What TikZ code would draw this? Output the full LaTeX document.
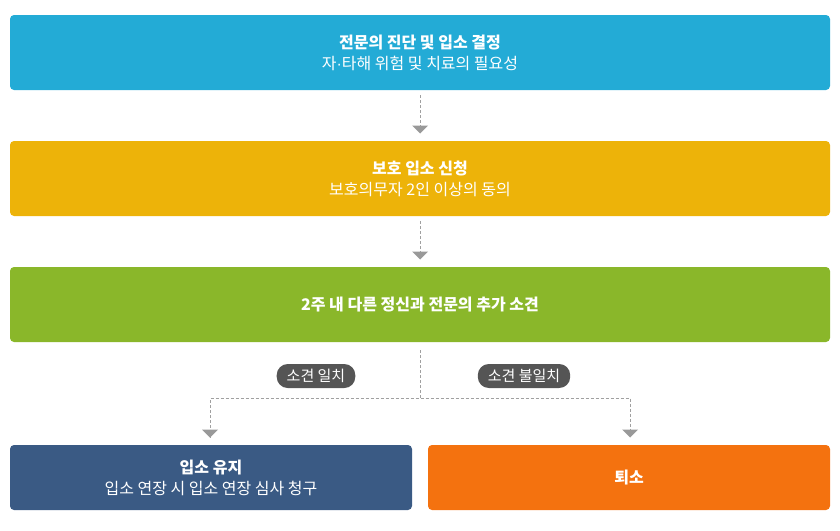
\documentclass[tikz,border=0pt]{standalone}
\usepackage{fontspec}
\setmainfont{Noto Sans CJK KR}
\newfontfamily\dotfont{Liberation Sans}
\usetikzlibrary{arrows.meta,positioning,calc}
\definecolor{cBlue}{HTML}{23ABD6}
\definecolor{cGold}{HTML}{EDB309}
\definecolor{cGreen}{HTML}{8AB72A}
\definecolor{cNavy}{HTML}{3A5A84}
\definecolor{cOrange}{HTML}{F4720F}
\definecolor{cPill}{HTML}{555555}
\definecolor{cLine}{HTML}{A0A0A0}
\definecolor{cTri}{HTML}{999999}
\tikzset{
  stepbox/.style={draw=none, rounded corners=4pt, text=white, align=center,
    font=\fontsize{16}{21}\selectfont, inner sep=0pt},
  pill/.style={fill=cPill, rounded corners=11pt, text=white, inner xsep=10pt, inner ysep=0pt,
    minimum height=24pt, font=\fontsize{15}{17}\selectfont},
  conn/.style={draw=cLine, dash pattern=on 3pt off 2pt, line width=0.8pt},
  tri/.style={fill=cTri, draw=none},
}
\newcommand{\tridown}[1]{\fill[tri] ($(#1)+(-8pt,4pt)$) -- ($(#1)+(8pt,4pt)$) -- ($(#1)+(0,-4pt)$) -- cycle;}
\begin{document}
\begin{tikzpicture}[x=1pt,y=-1pt]
\useasboundingbox (0,0) rectangle (840,530);
\node[stepbox, fill=cBlue, minimum width=820pt, minimum height=75pt] (b1) at (420,52.5)
  {{\bfseries 전문의 진단 및 입소 결정}\\자{\dotfont ·}타해 위험 및 치료의 필요성};
\node[stepbox, fill=cGold, minimum width=820pt, minimum height=75pt] (b2) at (420,178.5)
  {{\bfseries 보호 입소 신청}\\보호의무자 2인 이상의 동의};
\node[stepbox, fill=cGreen, minimum width=820pt, minimum height=75pt] (b3) at (420,304.5)
  {{\bfseries 2주 내 다른 정신과 전문의 추가 소견}};
\node[stepbox, fill=cNavy, minimum width=402pt, minimum height=65pt] (b4) at (211,477.5)
  {{\bfseries 입소 유지}\\입소 연장 시 입소 연장 심사 청구};
\node[stepbox, fill=cOrange, minimum width=402pt, minimum height=65pt] (b5) at (629,477.5)
  {{\bfseries 퇴소}};
% connectors
\coordinate (t1) at (420,129.5);
\coordinate (t2) at (420,255.5);
\coordinate (j) at (420,398);
\coordinate (t4) at (210,433.5);
\coordinate (t5) at (630,433.5);
\draw[conn] ([yshift=-5pt]b1.south) -- ([yshift=-4pt]t1);
\tridown{t1}
\draw[conn] ([yshift=-5pt]b2.south) -- ([yshift=-4pt]t2);
\tridown{t2}
\draw[conn] ([yshift=-8pt]b3.south) -- (j);
\draw[conn] ([yshift=-4pt]t4) |- (j) -| ([yshift=-4pt]t5);
\tridown{t4}
\tridown{t5}
\node[pill] (p1) at (316,376) {소견 일치};
\node[pill] (p2) at (524,376) {소견 불일치};
\end{tikzpicture}
\end{document}
